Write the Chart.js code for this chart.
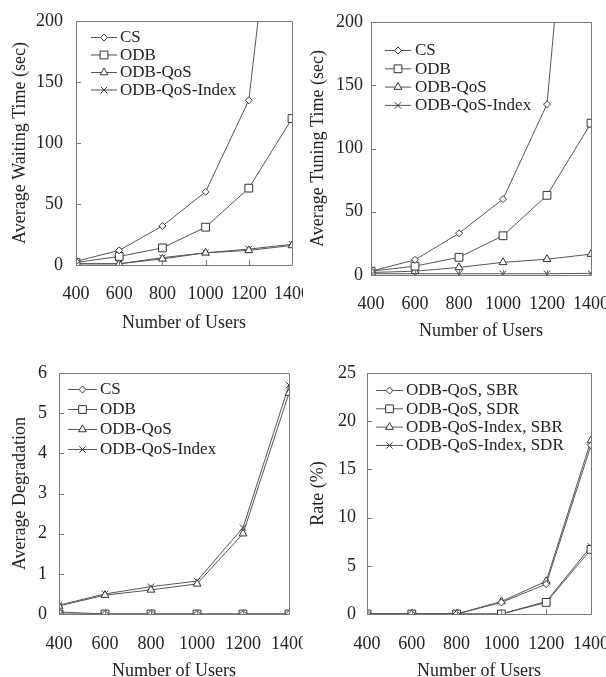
<!DOCTYPE html>
<html><head><meta charset="utf-8">
<script src="https://cdn.jsdelivr.net/npm/chart.js@4.4.0/dist/chart.umd.min.js"></script>
<style>
html,body{margin:0;padding:0;background:#fff;}
#wrap{position:relative;width:606px;height:677px;overflow:hidden;background:#fff;}
canvas{position:absolute;}
</style></head><body>
<div id="wrap">
<canvas id="c1" width="303" height="350" style="left:0;top:0"></canvas>
<canvas id="c2" width="303" height="350" style="left:303px;top:0"></canvas>
<canvas id="c3" width="303" height="350" style="left:0;top:338px"></canvas>
<canvas id="c4" width="303" height="350" style="left:303px;top:338px"></canvas>
</div>
<script>
// ---- data ----
const users = [400, 600, 800, 1000, 1200, 1400];

const waitCS  = [3, 12, 32, 60, 135, 440];
const waitODB = [2, 7, 14, 31, 63, 120];
const waitQoS = [1, 1, 5, 10, 12, 16];
const waitIdx = [1, 1, 6, 10, 13, 17];

const tuneCS  = [3, 12, 33, 60, 135, 520];
const tuneODB = [3, 7, 14, 31, 63, 120];
const tuneQoS = [2, 3, 6, 10, 12.5, 16.5];
const tuneIdx = [1, 1, 1, 1, 1, 1.3];

const degCS  = [0.05, 0, 0, 0, 0, 0];
const degODB = [0, 0, 0, 0, 0, 0];
const degQoS = [0.2, 0.47, 0.6, 0.75, 2.0, 5.5];
const degIdx = [0.22, 0.5, 0.68, 0.82, 2.15, 5.7];

const rateQoSSBR = [0, 0, 0, 1.2, 3.1, 17.5];
const rateQoSSDR = [0, 0, 0, 0, 1.2, 6.7];
const rateIdxSBR = [0, 0, 0, 1.3, 3.4, 18.0];
const rateIdxSDR = [0, 0, 0, 0, 1.3, 7.0];

const labels1 = ['CS', 'ODB', 'ODB-QoS', 'ODB-QoS-Index'];
const labels4 = ['ODB-QoS, SBR', 'ODB-QoS, SDR', 'ODB-QoS-Index, SBR', 'ODB-QoS-Index, SDR'];

// ---- styles ----
const FAM = '"Liberation Serif", "Times New Roman", serif';
const TXT = '#222';
const LINE = '#555';
const FRAME = '#777';
const styles = [
  {pointStyle: 'rectRot', pointRadius: 3.5},
  {pointStyle: 'rect', pointRadius: 5.5},
  {pointStyle: 'triangle', pointRadius: 4.5},
  {pointStyle: 'crossRot', pointRadius: 4.5}
];

function ds(label, data, i) {
  return {
    label: label,
    data: users.map((u, k) => ({x: u, y: data[k]})),
    borderColor: LINE, borderWidth: 1,
    backgroundColor: '#fff',
    pointBackgroundColor: '#fff', pointBorderColor: '#333', pointBorderWidth: 1,
    pointStyle: styles[i].pointStyle, pointRadius: styles[i].pointRadius,
    tension: 0, fill: false
  };
}

const framePlugin = {
  id: 'frame',
  afterDatasetsDraw(chart, args, opts) {
    const {ctx, chartArea: a} = chart;
    const xs = chart.scales.x, ys = chart.scales.y;
    ctx.save();
    ctx.strokeStyle = FRAME; ctx.lineWidth = 1;
    ctx.beginPath();
    ctx.rect(Math.round(a.left) + 0.5, Math.round(a.top) + 0.5, Math.round(a.right - a.left), Math.round(a.bottom - a.top));
    ctx.stroke();
    ctx.beginPath();
    ys.ticks.forEach(t => {
      const y = Math.round(ys.getPixelForValue(t.value)) + 0.5;
      ctx.moveTo(a.left, y); ctx.lineTo(a.left + 5, y);
    });
    xs.ticks.forEach(t => {
      const x = Math.round(xs.getPixelForValue(t.value)) + 0.5;
      ctx.moveTo(x, a.bottom); ctx.lineTo(x, a.bottom - 5);
    });
    ctx.stroke();
    ctx.restore();
  }
};

const legendPlugin = {
  id: 'boxLegend',
  afterDraw(chart, args, opts) {
    const ctx = chart.ctx;
    ctx.save();
    chart.data.datasets.forEach((d, i) => {
      const y = opts.y0 + i * opts.dy;
      ctx.strokeStyle = LINE; ctx.lineWidth = 1;
      ctx.beginPath(); ctx.moveTo(opts.x0, y + 0.5); ctx.lineTo(opts.x1, y + 0.5); ctx.stroke();
      ctx.fillStyle = '#fff'; ctx.strokeStyle = '#333';
      Chart.helpers.drawPoint(ctx, {pointStyle: d.pointStyle, radius: d.pointRadius, borderWidth: 1, rotation: 0}, (opts.x0 + opts.x1) / 2, y + 0.5);
      ctx.fillStyle = TXT;
      ctx.font = '17px ' + FAM;
      ctx.textBaseline = 'middle'; ctx.textAlign = 'left';
      ctx.fillText(d.label, opts.tx, y + 1);
    });
    ctx.restore();
  }
};

function makeChart(id, datasets, c) {
  const H = 350, W = 303;
  const font = {family: FAM, size: 18};
  return new Chart(document.getElementById(id), {
    type: 'line',
    data: {datasets: datasets},
    plugins: [framePlugin, legendPlugin],
    options: {
      responsive: false, animation: false, devicePixelRatio: 1,
      layout: {padding: {left: 0, top: c.T, right: W - c.R, bottom: 0}},
      plugins: {legend: {display: false}, tooltip: {enabled: false}, boxLegend: c.legend},
      scales: {
        x: {
          type: 'linear', min: 400, max: 1400,
          afterBuildTicks: s => { s.ticks = users.map(v => ({value: v})); },
          grid: {display: false, drawTicks: false}, border: {display: false},
          ticks: {font: font, color: TXT, padding: c.xPad, maxRotation: 0, autoSkip: false, callback: v => String(v)},
          title: {display: true, text: 'Number of Users', font: font, color: TXT, padding: {top: 0, bottom: c.xTitlePad}},
          afterFit: s => { s.height = H - c.B; s.paddingLeft = 0; s.paddingRight = 0; }
        },
        y: {
          type: 'linear', min: 0, max: c.yMax,
          ticks: {stepSize: c.yStep, font: font, color: TXT, padding: c.yPad},
          grid: {display: false, drawTicks: false}, border: {display: false},
          title: {display: true, text: c.yTitle, font: font, color: TXT, padding: {top: c.yTitlePad, bottom: 0}},
          afterFit: s => { s.width = c.L; s.paddingTop = 0; s.paddingBottom = 0; }
        }
      }
    }
  });
}

makeChart('c1', [ds(labels1[0], waitCS, 0), ds(labels1[1], waitODB, 1), ds(labels1[2], waitQoS, 2), ds(labels1[3], waitIdx, 3)],
  {L: 76, R: 292, T: 21, B: 265, xPad: 18, xTitlePad: 16, yPad: 13, yTitlePad: 9, yMax: 200, yStep: 50,
   yTitle: 'Average Waiting Time (sec)', legend: {x0: 91, x1: 117, tx: 120, y0: 37, dy: 17.5}});

makeChart('c2', [ds(labels1[0], tuneCS, 0), ds(labels1[1], tuneODB, 1), ds(labels1[2], tuneQoS, 2), ds(labels1[3], tuneIdx, 3)],
  {L: 68, R: 288, T: 22, B: 275, xPad: 18, xTitlePad: 8, yPad: 8, yTitlePad: 4, yMax: 200, yStep: 50,
   yTitle: 'Average Tuning Time (sec)', legend: {x0: 82, x1: 108, tx: 112, y0: 50, dy: 18.3}});

makeChart('c3', [ds(labels1[0], degCS, 0), ds(labels1[1], degODB, 1), ds(labels1[2], degQoS, 2), ds(labels1[3], degIdx, 3)],
  {L: 59, R: 289, T: 35, B: 276, xPad: 19, xTitlePad: 6, yPad: 12, yTitlePad: 9, yMax: 6, yStep: 1,
   yTitle: 'Average Degradation', legend: {x0: 68, x1: 97, tx: 100, y0: 51, dy: 20}});

makeChart('c4', [ds(labels4[0], rateQoSSBR, 0), ds(labels4[1], rateQoSSDR, 1), ds(labels4[2], rateIdxSBR, 2), ds(labels4[3], rateIdxSDR, 3)],
  {L: 64, R: 288, T: 35, B: 276, xPad: 19, xTitlePad: 6, yPad: 11, yTitlePad: 4, yMax: 25, yStep: 5,
   yTitle: 'Rate (%)', legend: {x0: 73, x1: 100, tx: 103, y0: 52, dy: 18.3}});
</script>
</body></html>
